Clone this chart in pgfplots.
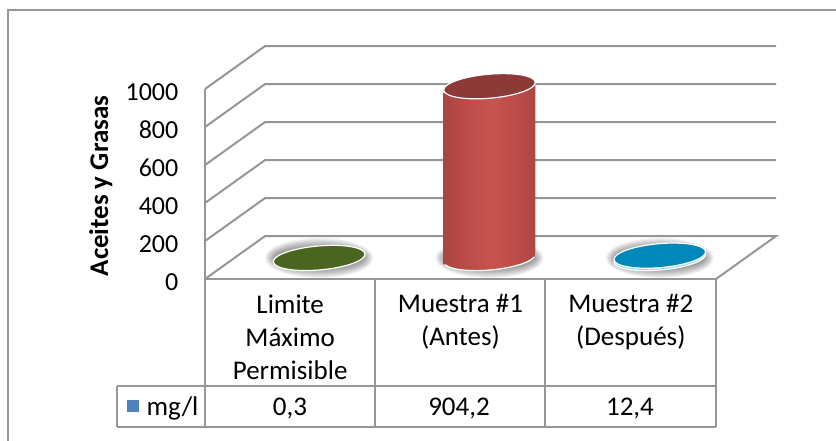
\documentclass[border=0pt]{standalone}
\usepackage{pgfplots}
\usepackage{fontspec}
\setmainfont{Carlito}
\pgfplotsset{compat=1.18}
\definecolor{linegray}{HTML}{969696}
\definecolor{cyA}{HTML}{7A2F2D}
\definecolor{cyB}{HTML}{9A3F3C}
\definecolor{cyC}{HTML}{B84A47}
\definecolor{cyD}{HTML}{C8544F}
\definecolor{cyE}{HTML}{6E2A28}
\definecolor{cyTop}{HTML}{8C3A38}
\definecolor{oliveTop}{HTML}{4A6520}
\definecolor{blueTop}{HTML}{0088BB}
\definecolor{blueSide}{HTML}{8FDCF0}
\definecolor{keyBlue}{HTML}{4F81BD}
\pgfdeclarehorizontalshading{cylred}{100bp}{
  color(0bp)=(cyA); color(14bp)=(cyB); color(35bp)=(cyC);
  color(50bp)=(cyD); color(68bp)=(cyC); color(86bp)=(cyB); color(100bp)=(cyE)}
% Soft halo under each disc
\pgfdeclareplotmark{halo}{
  \foreach \g in {0,1,...,7}{
    \pgfsetfillcolor{black}\pgfsetfillopacity{0.055}
    \pgfpathellipse{\pgfpointorigin}{\pgfpoint{54pt-\g*1.2pt}{0pt}}{\pgfpoint{0pt}{20pt-\g*1.2pt}}
    \pgfusepathqfill}
}
\pgfdeclareplotmark{disc}{
  \pgfpathellipse{\pgfpointorigin}{\pgfpoint{46pt}{0pt}}{\pgfpoint{0pt}{12pt}}
  \pgfusepathqfillstroke
}
% Rounded foot of the cylinder, shaded like its body
\pgfdeclareplotmark{shadeddisc}{
  \pgfpathellipse{\pgfpointorigin}{\pgfpoint{46pt}{0pt}}{\pgfpoint{0pt}{12pt}}
  \pgfshadepath{cylred}{0}
  \pgfusepathqstroke
}
\begin{document}
\begin{tikzpicture}
\path[use as bounding box] (-205pt,-161pt) rectangle (631pt,279pt);
\begin{axis}[
  at={(0pt,0pt)}, anchor=south west,
  scale only axis, width=511pt, height=190pt,
  xmin=-0.5, xmax=2.5, ymin=0, ymax=1000,
  clip=false, clip mode=individual,
  axis x line=bottom, axis y line=left,
  axis line style={-, linegray, line width=2pt},
  xtick={0,1,2},
  xticklabels={{Limite\\Máximo\\Permisible},{Muestra \#1\\(Antes)},{Muestra \#2\\(Después)}},
  xticklabel style={align=center, font=\fontsize{27}{33}\selectfont, anchor=north, yshift=-10pt},
  xtick style={draw=none},
  ytick={0,200,...,1000},
  ytick style={draw=none},
  yticklabel style={font=\fontsize{26}{26}\selectfont, anchor=east, xshift=-21pt, yshift=-3pt},
  /pgf/number format/assume math mode=true,
  /pgf/number format/1000 sep={},
  ylabel={\fontsize{27}{27}\selectfont\bfseries Aceites y Grasas},
  ylabel style={at={(axis description cs:0,0.5)}, anchor=south, yshift=89pt, xshift=-2pt},
]
% Floor and wall outline, one unit of depth = 60pt across and 43pt up
\addplot[linegray, line width=2pt, no marks] coordinates {(-0.5,0) (-0.147,226.3) (2.853,226.3) (2.5,0)};
\addplot[linegray, line width=2pt, no marks] coordinates {(-0.5,200) (-0.147,426.3) (2.853,426.3)};
\addplot[linegray, line width=2pt, no marks] coordinates {(-0.5,400) (-0.147,626.3) (2.853,626.3)};
\addplot[linegray, line width=2pt, no marks] coordinates {(-0.5,600) (-0.147,826.3) (2.853,826.3)};
\addplot[linegray, line width=2pt, no marks] coordinates {(-0.5,800) (-0.147,1026.3) (2.853,1026.3)};
\addplot[linegray, line width=2pt, no marks] coordinates {(-0.5,1000) (-0.147,1226.3) (2.853,1226.3)};
% Halo on the floor
\addplot[only marks, mark=halo, xshift=29pt, yshift=21pt] coordinates {(0,0) (1,0) (2,0)};
% Limite Maximo Permisible
\addplot[only marks, mark=disc, mark options={rotate=5, draw=white, fill=oliveTop, line width=1.2pt}, xshift=29pt, yshift=21pt] coordinates {(0,0.3)};
% Muestra 2
\addplot[only marks, mark=disc, mark options={rotate=5, draw=white, fill=blueSide, line width=1.2pt}, xshift=29pt, yshift=21pt] coordinates {(2,0)};
\addplot[only marks, mark=disc, mark options={rotate=5, draw=white, fill=blueTop, line width=1.2pt}, xshift=29pt, yshift=21pt] coordinates {(2,12.4)};
% Muestra 1: foot, slanted body, top
\addplot[only marks, mark=shadeddisc, mark options={rotate=5, draw=white, line width=1.2pt}, xshift=29pt, yshift=21pt] coordinates {(1,0)};
\addplot[ybar, bar width=92pt, shading=cylred, draw=none, xshift=29pt, yshift=-3.85pt, yslant=0.0875] coordinates {(1,904.2)};
\addplot[only marks, mark=disc, mark options={rotate=5, draw=white, fill=cyTop, line width=1.2pt}, xshift=29pt, yshift=21pt] coordinates {(1,904.2)};
\end{axis}
% Data table below the floor
\draw[linegray, line width=2pt] (0pt,0pt) -- (0pt,-148pt) (170pt,0pt) -- (170pt,-148pt) (340pt,0pt) -- (340pt,-148pt) (511pt,0pt) -- (511pt,-148pt)
  (-88pt,-107pt) -- (511pt,-107pt) (-88pt,-148pt) -- (511pt,-148pt) (-88pt,-107pt) -- (-88pt,-148pt);
\fill[keyBlue] (-78pt,-121pt) rectangle (-66pt,-133pt);
\node[anchor=west, font=\fontsize{27}{27}\selectfont] at (-62pt,-129pt) {mg/l};
\node[font=\fontsize{27}{27}\selectfont] at (85pt,-129pt) {0,3};
\node[font=\fontsize{27}{27}\selectfont] at (254pt,-129pt) {904,2};
\node[font=\fontsize{27}{27}\selectfont] at (425pt,-129pt) {12,4};
\draw[linegray, line width=2pt] (-197pt,-170pt) -- (-197pt,269pt) -- (640pt,269pt);
\end{tikzpicture}
\end{document}
